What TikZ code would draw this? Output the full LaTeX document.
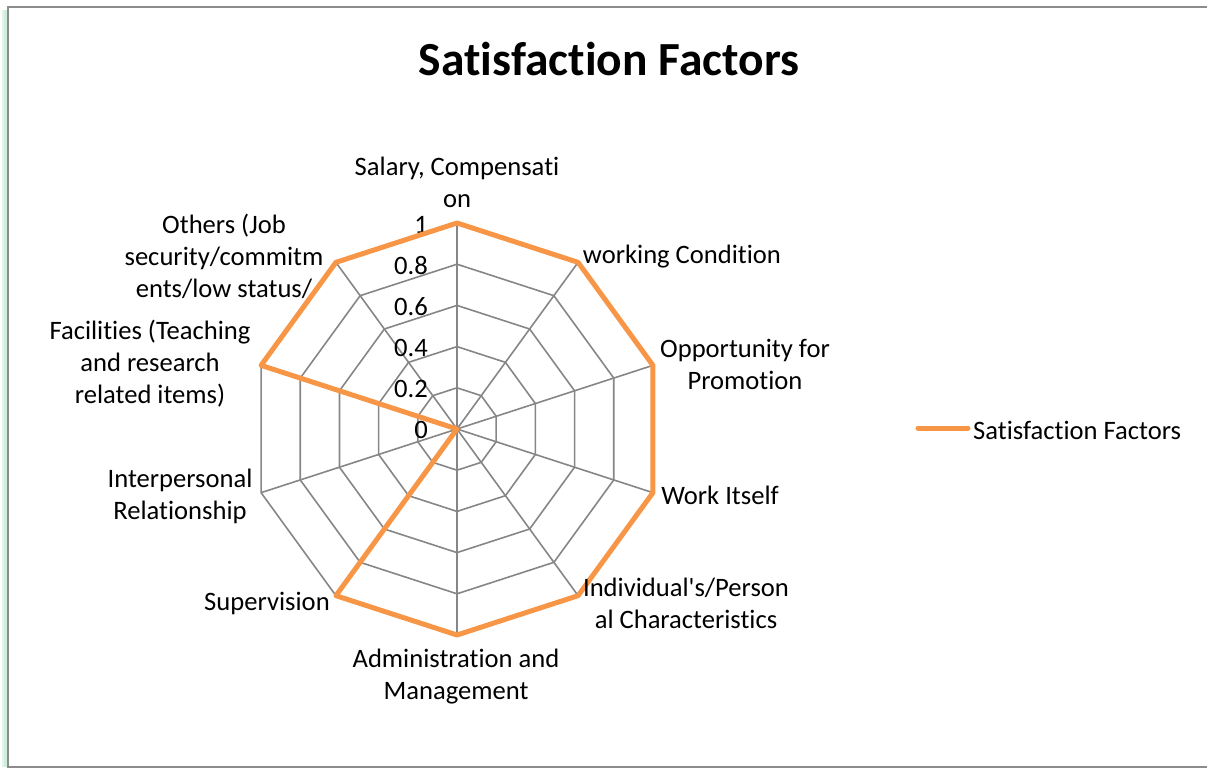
\documentclass[tikz,border=0pt]{standalone}
\usepackage{fontspec}
\setmainfont{Carlito}[Ligatures={NoCommon}]
\usetikzlibrary{calc}
\definecolor{gridgray}{HTML}{868686}
\definecolor{seriesorange}{HTML}{F79646}
\definecolor{framegray}{HTML}{8C8C8C}
\definecolor{shadowgreen}{HTML}{CFEEDC}
\begin{document}
\begin{tikzpicture}[x=1pt,y=-1pt,
  gridline/.style={draw=gridgray,line width=1.6pt},
  series/.style={draw=seriesorange,line width=5pt,line join=round,line cap=round},
  lbl/.style={inner sep=0pt,align=center,font=\fontsize{26.6}{32}\selectfont},
  tick/.style={inner sep=0pt,anchor=east,font=\fontsize{26.6}{32}\selectfont},
  titlestyle/.style={inner sep=0pt,font=\fontsize{47.5}{56}\selectfont\bfseries}]
\useasboundingbox (0,0) rectangle (1207,769);
% chart frame with soft green shadow
\fill[shadowgreen!60] (2,10) rectangle (7,767);
\fill[shadowgreen] (4,10) rectangle (7,767);
\draw[framegray,line width=2pt] (1215,7) -- (8,7) -- (8,767) -- (1215,767);
% title
\node[titlestyle] (title) at (609,59) {Satisfaction Factors};
% radar geometry
\coordinate (c) at (457,429);
\foreach \k in {0,...,9}{
  \coordinate (v\k) at ($(c)+({206*sin(36*\k)},{-206*cos(36*\k)})$);
}
% rings
\foreach \r in {0.2,0.4,0.6,0.8,1}{
  \draw[gridline,line join=round] ($(c)+(0,{-206*\r})$)
    \foreach \k in {1,...,9}{ -- ($(c)+({206*\r*sin(36*\k)},{-206*\r*cos(36*\k)})$) } -- cycle;
}
% spokes
\foreach \k in {0,...,9}{ \draw[gridline] (c) -- (v\k); }
% tick labels
\node[tick] (t0) at (428,430) {0};
\node[tick] (t1) at (428,389) {0.2};
\node[tick] (t2) at (428,348) {0.4};
\node[tick] (t3) at (428,307) {0.6};
\node[tick] (t4) at (428,266) {0.8};
\node[tick] (t5) at (428,225) {1};
% data series
\draw[series] (v0) -- (v1) -- (v2) -- (v3) -- (v4) -- (v5) -- (v6) -- (c) -- (v8) -- (v9) -- cycle;
% axis labels
\node[lbl] (l0) at (457,182) {Salary, Compensati\\on};
\node[lbl] (l1) at (682,257) {working Condition};
\node[lbl] (l2) at (745,364) {Opportunity for\\Promotion};
\node[lbl] (l3) at (720,495) {Work Itself};
\node[lbl] (l4) at (686,603) {Individual\textquotesingle s/Person\\al Characteristics};
\node[lbl] (l5) at (456,677) {Administration and\\Management};
\node[lbl] (l6) at (267,603) {Supervision};
\node[lbl] (l7) at (180,496) {Interpersonal\\Relationship};
\node[lbl] (l8) at (150,364) {Facilities (Teaching\\and research\\related items)};
\node[lbl] (l9) at (224,256) {Others (Job\\security/commitm\\ents/low status/};
% legend
\coordinate (lega) at (918,428);
\coordinate (legb) at (968,428);
\draw[series] (lega) -- (legb);
\node[lbl,anchor=west] (legtext) at (973,430) {Satisfaction Factors};
\end{tikzpicture}
\end{document}
